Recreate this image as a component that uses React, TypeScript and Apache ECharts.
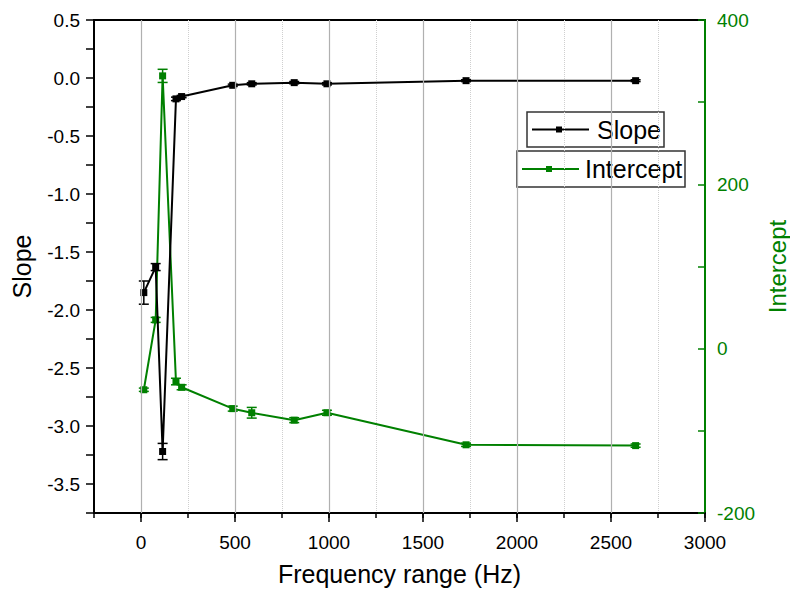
import React, { useEffect, useRef } from "react";
import * as echarts from "echarts";

const freq = [15, 78, 115, 186, 216, 488, 589, 815, 989, 1729, 2631];
const slope = [-1.85, -1.63, -3.22, -0.18, -0.16, -0.063, -0.05, -0.04, -0.05, -0.023, -0.023];
const slopeErr = [0.1, 0.03, 0.07, 0.015, 0.01, 0.01, 0.01, 0.01, 0.01, 0.008, 0.008];
const intercept = [-50, 35, 332, -40, -47, -73, -78, -87, -78, -117, -118];
const interceptErr = [2, 3, 8, 4, 3, 3, 6.5, 3, 3, 2, 2];
const xMajorTicks = [0, 500, 1000, 1500, 2000, 2500, 3000];
const xGridMajor = [0, 500, 1000, 1500, 2000, 2500];

const GREEN = "#008000";
const FONT = 'Arial, "Liberation Sans", sans-serif';

function errorBars(color: string) {
  return (params: any, api: any) => {
    const x = api.value(0);
    const y = api.value(1);
    const e = api.value(2);
    const top = api.coord([x, y + e]);
    const bot = api.coord([x, y - e]);
    const hw = 5;
    const style = { stroke: color, lineWidth: 1.5 };
    return {
      type: "group",
      children: [
        { type: "line", shape: { x1: top[0], y1: top[1], x2: bot[0], y2: bot[1] }, style },
        { type: "line", shape: { x1: top[0] - hw, y1: top[1], x2: top[0] + hw, y2: top[1] }, style },
        { type: "line", shape: { x1: bot[0] - hw, y1: bot[1], x2: bot[0] + hw, y2: bot[1] }, style },
      ],
    };
  };
}

export default function App() {
  const ref = useRef<HTMLDivElement>(null);
  useEffect(() => {
    if (!ref.current) return;
    const chart = echarts.init(ref.current, null, { renderer: "svg" });
    const option: any = {
      animation: false,
      backgroundColor: "#fff",
      textStyle: { fontFamily: FONT },
      grid: {
        left: 94,
        right: 85,
        top: 20,
        bottom: 81,
        containLabel: false,
        outerBoundsMode: "none",
        show: true,
        borderColor: "#000",
        borderWidth: 2,
        backgroundColor: "transparent",
      },
      xAxis: [
        {
          type: "value",
          min: -250,
          max: 3000,
          interval: 250,
          position: "bottom",
          axisLine: { show: true, onZero: false, lineStyle: { color: "#000", width: 2 } },
          axisTick: { show: true, inside: false, length: 5, lineStyle: { color: "#000", width: 1.5 } },
          axisLabel: { show: false },
          splitLine: { show: true, lineStyle: { color: "#cfcfcf", type: "dotted", width: 1 } },
        },
        {
          type: "value",
          min: -250,
          max: 3000,
          position: "bottom",
          name: "Frequency range (Hz)",
          nameLocation: "middle",
          nameGap: 48,
          nameTextStyle: { fontSize: 25, color: "#000", fontFamily: FONT },
          axisLine: { show: false, onZero: false },
          axisTick: { show: true, inside: false, length: 9, customValues: xMajorTicks, lineStyle: { color: "#000", width: 1.5 } },
          axisLabel: {
            show: true,
            customValues: xMajorTicks,
            margin: 20,
            fontSize: 19,
            color: "#000",
            fontFamily: FONT,
            formatter: (v: number) => String(v),
          },
          splitLine: { show: false },
        },
      ],
      yAxis: [
        {
          type: "value",
          min: -3.75,
          max: 0.5,
          interval: 0.25,
          position: "left",
          name: "Slope",
          nameLocation: "middle",
          nameGap: 60,
          nameTextStyle: { fontSize: 25, color: "#000", fontFamily: FONT },
          axisLine: { show: true, onZero: false, lineStyle: { color: "#000", width: 2 } },
          axisTick: { show: true, inside: false, length: 8, lineStyle: { color: "#000", width: 1.5 } },
          axisLabel: {
            margin: 14,
            fontSize: 19,
            color: "#000",
            fontFamily: FONT,
            formatter: (v: number) => (Math.abs(v * 2 - Math.round(v * 2)) < 1e-6 ? v.toFixed(1) : ""),
          },
          splitLine: { show: false },
        },
        {
          type: "value",
          min: -200,
          max: 400,
          interval: 100,
          position: "right",
          name: "Intercept",
          nameLocation: "middle",
          nameGap: 50,
          nameTextStyle: { fontSize: 24, color: GREEN, fontFamily: FONT },
          axisLine: { show: true, onZero: false, lineStyle: { color: GREEN, width: 2 } },
          axisTick: { show: true, inside: true, length: 7, lineStyle: { color: GREEN, width: 1.5 } },
          axisLabel: {
            margin: 12,
            fontSize: 19,
            color: GREEN,
            fontFamily: FONT,
            formatter: (v: number) => (v % 200 === 0 ? String(v) : ""),
          },
          splitLine: { show: false },
        },
      ],
      series: [
        {
          type: "line",
          name: "grid",
          data: [],
          z: 1,
          silent: true,
          markLine: {
            silent: true,
            symbol: "none",
            label: { show: false },
            lineStyle: { color: "#b0b0b0", type: "solid", width: 1.2 },
            data: xGridMajor.map((v) => ({ xAxis: v })),
          },
        },
        {
          type: "line",
          name: "Intercept",
          xAxisIndex: 0,
          yAxisIndex: 1,
          data: freq.map((f, i) => [f, intercept[i]]),
          symbol: "rect",
          symbolSize: 7,
          lineStyle: { color: GREEN, width: 2 },
          itemStyle: { color: GREEN },
          z: 3,
        },
        {
          type: "custom",
          name: "InterceptErr",
          xAxisIndex: 0,
          yAxisIndex: 1,
          data: freq.map((f, i) => [f, intercept[i], interceptErr[i]]),
          encode: { x: 0, y: 1 },
          renderItem: errorBars(GREEN),
          z: 3,
        },
        {
          type: "line",
          name: "Slope",
          xAxisIndex: 0,
          yAxisIndex: 0,
          data: freq.map((f, i) => [f, slope[i]]),
          symbol: "rect",
          symbolSize: 7,
          lineStyle: { color: "#000", width: 2 },
          itemStyle: { color: "#000" },
          z: 4,
        },
        {
          type: "custom",
          name: "SlopeErr",
          xAxisIndex: 0,
          yAxisIndex: 0,
          data: freq.map((f, i) => [f, slope[i], slopeErr[i]]),
          encode: { x: 0, y: 1 },
          renderItem: errorBars("#000"),
          z: 4,
        },
      ],
      graphic: [
        {
          type: "group",
          z: 100,
          children: [
            { type: "rect", shape: { x: 527, y: 112, width: 137, height: 35 }, style: { fill: "#fff", stroke: "#333", lineWidth: 1.5 } },
            { type: "line", shape: { x1: 532, y1: 129.5, x2: 589, y2: 129.5 }, style: { stroke: "#000", lineWidth: 2 } },
            { type: "rect", shape: { x: 556, y: 126.5, width: 6, height: 6 }, style: { fill: "#000" } },
            { type: "text", x: 597, y: 129.5, style: { text: "Slope", fontSize: 25, fontFamily: FONT, fill: "#000", verticalAlign: "middle", align: "left" } },
            { type: "rect", shape: { x: 517, y: 151, width: 168, height: 36 }, style: { fill: "#fff", stroke: "#333", lineWidth: 1.5 } },
            { type: "line", shape: { x1: 522, y1: 169, x2: 579, y2: 169 }, style: { stroke: GREEN, lineWidth: 2 } },
            { type: "rect", shape: { x: 546, y: 166, width: 6, height: 6 }, style: { fill: GREEN } },
            { type: "text", x: 585, y: 169, style: { text: "Intercept", fontSize: 25, fontFamily: FONT, fill: "#000", verticalAlign: "middle", align: "left" } },
          ],
        },
      ],
    };
    chart.setOption(option);
    return () => chart.dispose();
  }, []);
  return <div ref={ref} style={{ width: 790, height: 594, position: "absolute", left: 0, top: 0 }} />;
}
